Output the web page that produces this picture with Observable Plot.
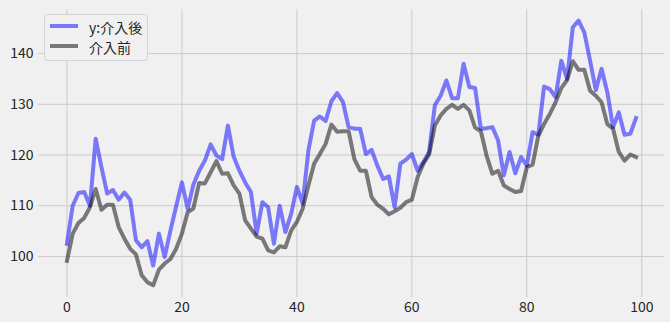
<!DOCTYPE html>
<html><head><meta charset="utf-8">
<script src="https://cdn.jsdelivr.net/npm/d3@7"></script>
<script src="https://cdn.jsdelivr.net/npm/@observablehq/plot@0.6"></script>
<style>
html,body{margin:0;padding:0;background:#f0f0f0;}
#wrap{position:relative;width:670px;height:322px;overflow:hidden;}
.legend{position:absolute;left:44px;top:14px;width:104px;height:47px;border:1px solid #d4d4d4;border-radius:3px;box-sizing:border-box;background:#f0f0f0;font-family:"Noto Sans CJK JP",sans-serif;font-size:14px;color:#262626;}
.legend .ln{position:absolute;left:5px;width:28px;height:4px;}
.legend .tx{position:absolute;left:44px;line-height:16px;white-space:nowrap;}
</style>
</head><body>
<div id="wrap"></div>
<script>
const seriesNames = ["y:介入後", "介入前"];
const after = [102.5,110.0,112.5,112.7,110.0,123.2,117.6,112.4,113.1,111.2,112.6,111.2,103.2,101.8,103.0,98.2,104.5,99.9,105.1,109.9,114.6,109.4,114.2,116.9,118.9,122.1,119.9,119.2,125.8,119.7,116.9,114.6,112.7,104.5,110.7,109.7,102.5,110.0,104.8,108.4,113.7,110.4,120.9,126.8,127.6,126.7,130.6,132.2,130.5,125.5,125.2,125.2,120.2,121.0,117.9,115.3,115.8,109.7,118.3,119.1,120.2,116.9,118.6,120.6,129.8,131.7,134.7,131.2,131.2,138.0,133.4,133.2,125.2,125.3,125.5,122.9,116.0,120.6,116.4,119.6,117.9,124.5,124.0,133.5,133.0,131.4,138.6,135.0,145.2,146.5,144.2,138.6,132.8,137.0,132.4,125.5,128.4,124.0,124.2,127.3];
const before = [99.1,104.5,106.6,107.6,109.7,113.3,109.2,110.2,110.2,105.8,103.5,101.5,100.4,96.3,94.9,94.3,97.4,98.6,99.5,101.5,104.5,108.7,109.5,114.5,114.4,116.6,118.8,116.3,116.4,114.0,112.4,107.1,105.5,103.9,103.5,101.2,100.8,102.0,101.8,105.1,106.8,109.4,114.0,118.3,120.2,122.2,126.0,124.6,124.7,124.7,119.2,116.9,116.9,111.7,110.2,109.4,108.3,108.9,109.6,110.7,111.2,115.6,118.3,120.1,125.8,127.8,129.1,129.9,129.1,129.9,128.8,125.4,124.7,119.9,116.3,116.9,114.0,113.3,112.7,112.9,117.6,118.1,123.8,126.1,128.1,130.4,133.2,134.8,138.5,136.8,136.8,132.7,131.7,130.4,126.1,125.2,120.6,118.9,120.1,119.6];
const xTicks = [0, 20, 40, 60, 80, 100];
const yTicks = [100, 110, 120, 130, 140];
const colors = ["blue", "black"];

const afterData = after.map((v, i) => ({x: i, y: v}));
const beforeData = before.map((v, i) => ({x: i, y: v}));

const chart = Plot.plot({
  width: 670,
  height: 322,
  marginLeft: 38,
  marginRight: 6,
  marginTop: 9,
  marginBottom: 25,
  style: {background: "#f0f0f0", fontFamily: "'Noto Sans CJK JP', sans-serif", fontSize: "14px", color: "#262626", overflow: "visible"},
  x: {domain: [-4.95, 103.95]},
  y: {domain: [91.9, 148.7]},
  marks: [
    Plot.gridX(xTicks, {stroke: "#cbcbcb", strokeOpacity: 1, strokeWidth: 1}),
    Plot.gridY(yTicks, {stroke: "#cbcbcb", strokeOpacity: 1, strokeWidth: 1}),
    Plot.axisX(xTicks, {tickSize: 0, tickPadding: 5, fontSize: 14, label: null}),
    Plot.axisY(yTicks, {tickSize: 0, tickPadding: 5, fontSize: 14, label: null}),
    Plot.line(afterData, {x: "x", y: "y", stroke: colors[0], strokeOpacity: 0.5, strokeWidth: 4, strokeLinejoin: "round", strokeLinecap: "square"}),
    Plot.line(beforeData, {x: "x", y: "y", stroke: colors[1], strokeOpacity: 0.5, strokeWidth: 4, strokeLinejoin: "round", strokeLinecap: "square"})
  ]
});
const wrap = document.getElementById("wrap");
wrap.appendChild(chart);

const legend = document.createElement("div");
legend.className = "legend";
seriesNames.forEach((name, k) => {
  const ln = document.createElement("div");
  ln.className = "ln";
  ln.style.top = (9 + k * 20) + "px";
  ln.style.background = colors[k];
  ln.style.opacity = 0.5;
  legend.appendChild(ln);
  const tx = document.createElement("div");
  tx.className = "tx";
  tx.style.top = (4 + k * 20) + "px";
  tx.textContent = name;
  legend.appendChild(tx);
});
wrap.appendChild(legend);
</script>
</body></html>
